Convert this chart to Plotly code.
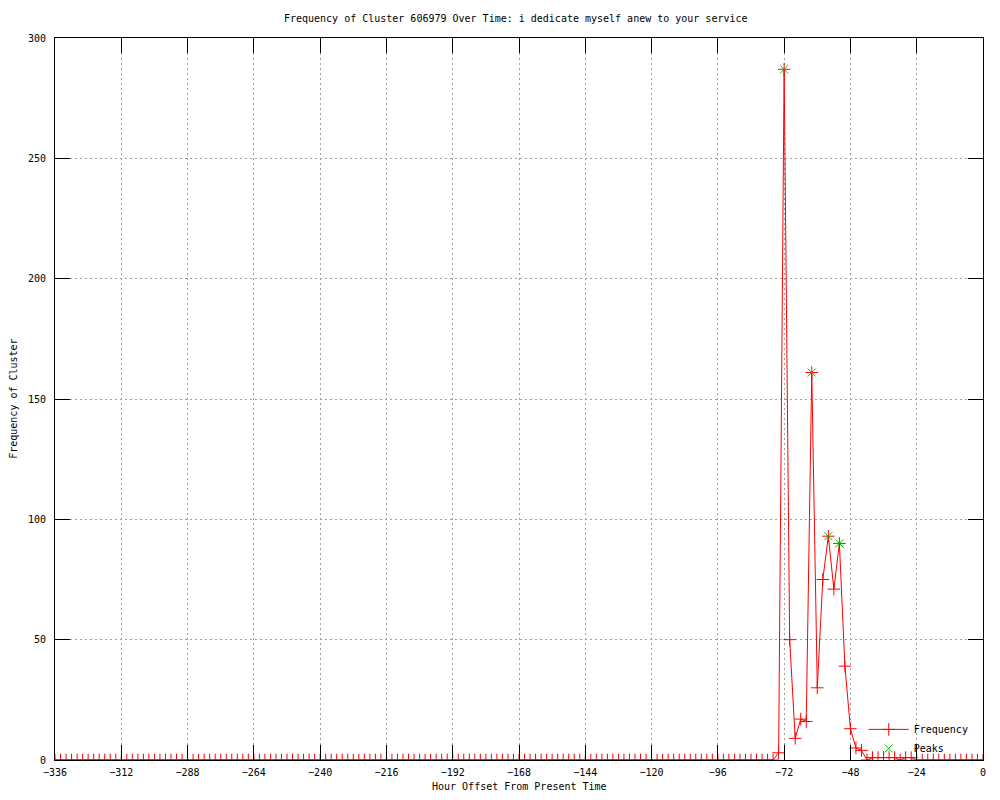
import plotly.graph_objects as go

# Hour offsets (every 2 hours from -336 to 0)
hours = list(range(-336, 1, 2))

# Frequency values
freq_early = [0] * 130  # -336 .. -78, all zero
freq_late = [
    0,    # -76
    3,    # -74
    287,  # -72
    50,   # -70
    9,    # -68
    17,   # -66
    16,   # -64
    161,  # -62
    30,   # -60
    75,   # -58
    93,   # -56
    71,   # -54
    90,   # -52
    39,   # -50
    13,   # -48
    5,    # -46
    4,    # -44
    0,    # -42
    1,    # -40
    1,    # -38
    1,    # -36
    1,    # -34
    1,    # -32
    0,    # -30
    1,    # -28
    1,    # -26
    0, 0, 0, 0, 0, 0, 0, 0, 0, 0, 0, 0, 0,  # -24 .. 0
]
frequency = freq_early + freq_late

peak_hours = [-72, -62, -56, -52]
peak_values = [287, 161, 93, 90]

x_ticks = list(range(-336, 1, 24))
y_ticks = [0, 50, 100, 150, 200, 250, 300]

title_text = "Frequency of Cluster 606979 Over Time: i dedicate myself anew to your service"
x_title = "Hour Offset From Present Time"
y_title = "Frequency of Cluster"
FONT = "DejaVu Sans Mono"

fig = go.Figure()
fig.add_trace(go.Scatter(
    x=hours, y=frequency, mode="lines+markers", name="Frequency",
    line=dict(color="#ff0000", width=1),
    marker=dict(symbol="cross-thin", size=9, line=dict(color="#ff0000", width=1), color="#ff0000"),
))
fig.add_trace(go.Scatter(
    x=peak_hours, y=peak_values, mode="markers", name="Peaks",
    marker=dict(symbol="x-thin", size=8, line=dict(color="#00c000", width=1), color="#00c000"),
))

axis_common = dict(
    showline=True, linecolor="black", linewidth=1, mirror="ticks",
    ticks="inside", ticklen=15, tickcolor="black", tickwidth=1,
    showgrid=True, gridcolor="#a0a0a0", griddash="2px,3px", gridwidth=1,
    zeroline=False, automargin=False,
    tickfont=dict(family=FONT, size=10, color="black"),
)

fig.update_layout(
    width=984, height=784,
    margin=dict(l=47, r=9, t=30, b=32, autoexpand=False),
    paper_bgcolor="white", plot_bgcolor="white",
    font=dict(family=FONT, size=10, color="black"),
    title=dict(text=title_text, x=0.516, xanchor="center", y=0.987, yanchor="middle",
               font=dict(family=FONT, size=10, color="black")),
    xaxis=dict(range=[-336, 0], tickvals=x_ticks, ticklabelstandoff=3, **axis_common),
    yaxis=dict(range=[0, 300], tickvals=y_ticks, ticklabelstandoff=6, **axis_common),
    legend=dict(x=0.99, y=-0.004, xanchor="right", yanchor="bottom",
                bgcolor="rgba(0,0,0,0)", borderwidth=0,
                font=dict(family=FONT, size=10), tracegroupgap=0,
                itemwidth=40),
    showlegend=True,
    annotations=[
        dict(text=x_title, xref="paper", yref="paper", x=0.5, y=-0.037,
             xanchor="center", yanchor="middle", showarrow=False,
             font=dict(family=FONT, size=10, color="black")),
        dict(text=y_title, xref="paper", yref="paper", x=-0.0455, y=0.5,
             xanchor="center", yanchor="middle", textangle=-90, showarrow=False,
             font=dict(family=FONT, size=10, color="black")),
    ],
)

fig.write_html("out.html")
